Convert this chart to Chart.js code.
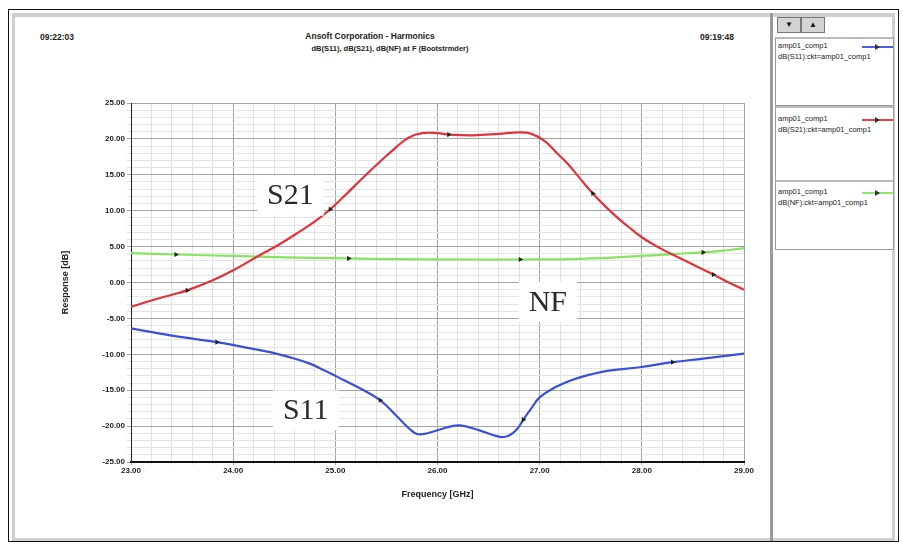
<!DOCTYPE html>
<html>
<head>
<meta charset="utf-8">
<script src="https://cdn.jsdelivr.net/npm/chart.js@4.4.0/dist/chart.umd.min.js"></script>
<style>
  html, body { margin:0; padding:0; background:#fff; }
  body { width:903px; height:544px; position:relative; overflow:hidden; font-family:"Liberation Sans", Arial, sans-serif; }
  .abs { position:absolute; }
  #outer { left:8px; top:9px; width:889px; height:531px; border:1px solid #111; }
  #inner { left:12px; top:13px; width:877px; height:521px; border:3px solid #cfcfcf; border-top-width:4px; }
  #sep { left:770px; top:13px; width:3px; height:528px; background:#9a9a9a; }
  .hdr { font-size:8.5px; font-weight:bold; color:#222; white-space:nowrap; }
  .btn { top:17px; width:22px; height:14px; background:#d4d4d4; border:1px solid #777; font-size:8px; text-align:center; line-height:14px; color:#111; }
  .lbox { left:775px; width:117px; border:1px solid #999; border-top:2px solid #bbb; background:#fff; overflow:hidden; }
  .ltxt { position:absolute; left:2px; font-size:7.5px; color:#222; white-space:nowrap; }
  .lline { position:absolute; left:86px; width:31px; height:2px; }
  .lmark { position:absolute; left:99px; width:0; height:0; border-top:3px solid transparent; border-bottom:3px solid transparent; border-left:5px solid #333; }
  canvas { position:absolute; left:0; top:0; }
</style>
</head>
<body>
<div id="outer" class="abs"></div>
<div id="inner" class="abs"></div>
<div id="sep" class="abs"></div>

<div class="abs hdr" style="left:40px; top:32px;">09:22:03</div>
<div class="abs hdr" style="left:700px; top:32px;">09:19:48</div>
<div class="abs hdr" style="left:0; width:740px; text-align:center; top:31px;">Ansoft Corporation - Harmonics</div>
<div class="abs hdr" style="left:40px; width:700px; text-align:center; top:44px; font-size:7.5px;">dB(S11), dB(S21), dB(NF) at F (Bootstrmder)</div>

<div class="abs btn" style="left:777px;">&#9660;</div>
<div class="abs btn" style="left:801px;">&#9650;</div>

<div class="abs lbox" style="top:37px; height:66px;">
  <div class="ltxt" style="top:2px;">amp01_comp1</div>
  <div class="ltxt" style="top:13px;">dB(S11):ckt=amp01_comp1</div>
  <div class="lline" style="top:7px; background:#4a62e0;"></div>
  <div class="lmark" style="top:5px;"></div>
</div>
<div class="abs lbox" style="top:106px; height:72px;">
  <div class="ltxt" style="top:6px;">amp01_comp1</div>
  <div class="ltxt" style="top:17px;">dB(S21):ckt=amp01_comp1</div>
  <div class="lline" style="top:11px; background:#ee4048;"></div>
  <div class="lmark" style="top:9px;"></div>
</div>
<div class="abs lbox" style="top:180px; height:67px;">
  <div class="ltxt" style="top:5px;">amp01_comp1</div>
  <div class="ltxt" style="top:16px;">dB(NF):ckt=amp01_comp1</div>
  <div class="lline" style="top:10px; background:#8fe870;"></div>
  <div class="lmark" style="top:8px;"></div>
</div>

<canvas id="c" width="903" height="544"></canvas>

<script>
// ---- data ----
const s21Freq = [23.0,23.2,23.4,23.55,23.8,24.0,24.26,24.45,24.62,24.8,24.95,25.1,25.27,25.45,25.6,25.72,25.85,26.0,26.11,26.35,26.6,26.8,26.92,27.05,27.17,27.27,27.4,27.52,27.65,27.78,27.9,28.01,28.15,28.27,28.5,28.7,28.85,29.0];
const s21Val  = [-3.4,-2.5,-1.7,-1.1,0.3,1.7,3.8,5.3,6.8,8.5,10.2,12.2,14.6,17.0,18.9,20.2,20.8,20.8,20.6,20.5,20.7,20.9,20.7,19.7,18.0,16.6,14.4,12.4,10.5,8.8,7.4,6.2,5.0,4.1,2.5,1.1,0.0,-1.0];
const s21Marks = [23.55,24.95,26.11,27.52,28.7];

const nfFreq = [23.0,23.44,24.0,24.5,25.13,25.6,26.2,26.81,27.4,28.0,28.3,28.6,28.8,29.0];
const nfVal  = [4.1,3.9,3.7,3.5,3.35,3.25,3.2,3.2,3.3,3.7,3.95,4.2,4.45,4.8];
const nfMarks = [23.44,25.13,26.81,28.6];

const s11Freq = [23.0,23.4,23.84,24.1,24.36,24.55,24.75,24.9,25.07,25.25,25.44,25.6,25.72,25.8,25.9,26.09,26.22,26.41,26.61,26.7,26.78,26.84,26.92,27.0,27.15,27.33,27.5,27.66,27.98,28.3,28.6,29.0];
const s11Val  = [-6.4,-7.4,-8.3,-9.0,-9.7,-10.4,-11.3,-12.3,-13.5,-14.8,-16.4,-18.6,-20.3,-21.1,-21.0,-20.2,-19.9,-20.6,-21.5,-21.3,-20.4,-19.1,-17.5,-16.0,-14.6,-13.5,-12.8,-12.3,-11.8,-11.1,-10.6,-9.9];
const s11Marks = [23.84,25.44,26.84,28.3];

const xTicksMajor = [23,24,25,26,27,28,29];
const yTicksMajor = [25,20,15,10,5,0,-5,-10,-15,-20,-25];

const curveLabels = ["S21","NF","S11"];
const curveLabelPos = [[24.56,12.1],[27.08,-2.7],[24.71,-17.8]];

// ---- build ----
function pts(f, v){ return f.map((x,i)=>({x:x, y:v[i]})); }
function radii(f, marks){ return f.map(x => marks.some(m=>Math.abs(m-x)<1e-9) ? 3 : 0); }
function isMajor(v, list){ return list.some(m=>Math.abs(m-v)<1e-6); }

function ds(label, f, v, marks, color){
  return {
    label, data: pts(f,v), borderColor: color, borderWidth: 2.2,
    pointRadius: radii(f,marks), pointStyle:'triangle', pointRotation:90,
    pointBackgroundColor:'#222', pointBorderColor:'#222', pointBorderWidth:0,
    tension:0.4, fill:false
  };
}

const labelPlugin = {
  id:'curveLabels',
  afterDatasetsDraw(chart){
    const ctx = chart.ctx, xs = chart.scales.x, ys = chart.scales.y;
    ctx.save();
    ctx.font = '30px "Liberation Serif", "Times New Roman", serif';
    ctx.textAlign='center'; ctx.textBaseline='middle';
    curveLabels.forEach((t,i)=>{
      const px = xs.getPixelForValue(curveLabelPos[i][0]);
      const py = ys.getPixelForValue(curveLabelPos[i][1]);
      const w = ctx.measureText(t).width;
      ctx.fillStyle='#fff';
      ctx.fillRect(px-w/2-10, py-20, w+20, 40);
      ctx.fillStyle='#2a2a2a';
      ctx.fillText(t, px, py+1);
    });
    ctx.restore();
  }
};

const tickFont = {family:'"Liberation Sans", Arial, sans-serif', size:8, weight:'bold'};

new Chart(document.getElementById('c'), {
  type:'line',
  data:{ datasets:[
    ds('dB(S11)', s11Freq, s11Val, s11Marks, '#3a50d8'),
    ds('dB(S21)', s21Freq, s21Val, s21Marks, '#e2323c'),
    ds('dB(NF)', nfFreq, nfVal, nfMarks, '#86e460')
  ]},
  options:{
    responsive:false, animation:false,
    layout:{ padding:{left:60, top:103, right:159, bottom:42} },
    plugins:{ legend:{display:false}, tooltip:{enabled:false} },
    scales:{
      x:{
        type:'linear', min:23, max:29,
        afterFit(s){ s.height = 40; },
        ticks:{ stepSize:0.2, autoSkip:false, maxRotation:0, padding:1, color:'#222', font:tickFont,
          callback:(v)=> isMajor(v, xTicksMajor) ? Number(v).toFixed(2) : '' },
        grid:{ color:(c)=> isMajor(c.tick.value, xTicksMajor) ? '#a4a4a4' : '#e2e2e2', lineWidth:1, tickLength:3 },
        border:{ color:'#111', width:2 },
        title:{ display:true, text:'Frequency [GHz]', color:'#222', font:{family:'"Liberation Sans", Arial, sans-serif', size:9, weight:'bold'}, padding:{top:0,bottom:2} }
      },
      y:{
        min:-25, max:25,
        afterFit(s){ s.width = 71; },
        ticks:{ stepSize:1, autoSkip:false, padding:2, color:'#222', font:tickFont,
          callback:(v)=> isMajor(v, yTicksMajor) ? Number(v).toFixed(2) : '' },
        grid:{ color:(c)=> isMajor(c.tick.value, yTicksMajor) ? '#a4a4a4' : '#e4e4e4', lineWidth:1, tickLength:4 },
        border:{ color:'#222', width:1 },
        title:{ display:true, text:'Response [dB]', color:'#222', font:{family:'"Liberation Sans", Arial, sans-serif', size:9, weight:'bold'}, padding:{top:0,bottom:0} }
      }
    }
  },
  plugins:[labelPlugin]
});
</script>
</body>
</html>
